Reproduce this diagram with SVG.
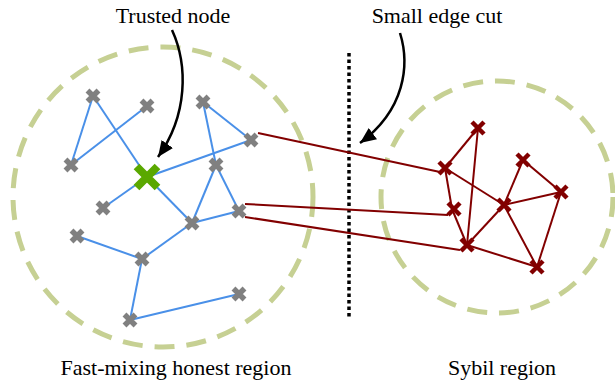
<svg xmlns="http://www.w3.org/2000/svg" xmlns:xlink="http://www.w3.org/1999/xlink" width="615" height="381" viewBox="0 0 615 381">
<style>
.region{fill:none;stroke:#c6d093;stroke-width:5;stroke-dasharray:20 12}
.cut{fill:none;stroke:#000;stroke-width:3.5;stroke-dasharray:3.5 3}
.blue{stroke:#4a90e8;stroke-width:2;fill:none}
.red{stroke:#820000;stroke-width:2;fill:none}
.arrow{fill:none;stroke:#000;stroke-width:2.5}
.xg{stroke:#808080;stroke-width:5.5;stroke-linecap:butt}
.xr{stroke:#820000;stroke-width:4.5;stroke-linecap:butt}
.xt{stroke:#5aa800;stroke-width:8;stroke-linecap:butt}
</style>
<defs>
<marker id="ah" markerUnits="userSpaceOnUse" markerWidth="20" markerHeight="20" refX="16" refY="7" orient="auto">
<path d="M0,0 L16,7 L0,14 Z" fill="#000"/>
</marker>
<g id="xgray" class="xg"><path d="M-5.5,-5.5 L5.5,5.5 M-5.5,5.5 L5.5,-5.5"/></g>
<g id="xred" class="xr"><path d="M-6,-6 L6,6 M-6,6 L6,-6"/></g>
<g id="xtrust" class="xt"><path d="M-10.5,-10.5 L10.5,10.5 M-10.5,10.5 L10.5,-10.5"/></g>
</defs>
<g id="regions">
<circle class="region" cx="163" cy="197" r="150"/>
<circle class="region" cx="497" cy="197" r="116"/>
<line class="cut" x1="349" y1="53" x2="349" y2="318"/>
</g>
<g id="connectors">
<g id="honest-edges" class="blue">
<line x1="93" y1="96" x2="71" y2="165"/>
<line x1="71" y1="165" x2="147" y2="106"/>
<line x1="93" y1="96" x2="147" y2="177"/>
<line x1="147" y1="177" x2="251" y2="140"/>
<line x1="203" y1="102" x2="251" y2="140"/>
<line x1="203" y1="102" x2="216" y2="165"/>
<line x1="216" y1="165" x2="192" y2="223"/>
<line x1="216" y1="165" x2="239" y2="211"/>
<line x1="147" y1="177" x2="103" y2="208"/>
<line x1="147" y1="177" x2="192" y2="223"/>
<line x1="192" y1="223" x2="239" y2="211"/>
<line x1="192" y1="223" x2="142" y2="259"/>
<line x1="77" y1="236" x2="142" y2="259"/>
<line x1="142" y1="259" x2="130" y2="320"/>
<line x1="130" y1="320" x2="239" y2="294"/>
</g>
<g id="attack-edges" class="red">
<line x1="258" y1="133" x2="440" y2="172"/>
<line x1="245" y1="204" x2="448" y2="215"/>
<line x1="245" y1="217" x2="460" y2="250"/>
</g>
<g id="sybil-edges" class="red">
<line x1="445" y1="168" x2="478" y2="128"/>
<line x1="478" y1="128" x2="467" y2="245"/>
<line x1="445" y1="168" x2="504" y2="205"/>
<line x1="445" y1="168" x2="452" y2="209"/>
<line x1="452" y1="209" x2="467" y2="245"/>
<line x1="467" y1="245" x2="504" y2="205"/>
<line x1="504" y1="205" x2="523" y2="160"/>
<line x1="523" y1="160" x2="561" y2="192"/>
<line x1="504" y1="205" x2="561" y2="192"/>
<line x1="504" y1="205" x2="537" y2="267"/>
<line x1="561" y1="192" x2="537" y2="267"/>
<line x1="467" y1="245" x2="537" y2="267"/>
</g>
<path id="arrow-trusted" class="arrow" d="M172,30 C188,65 188,115 158,157" marker-end="url(#ah)"/>
<path id="arrow-cut" class="arrow" d="M400,33 C410,65 405,110 360,143" marker-end="url(#ah)"/>
</g>
<g id="honest-nodes">
<g id="n-a"><use xlink:href="#xgray" x="93" y="96"/></g>
<g id="n-b"><use xlink:href="#xgray" x="147" y="106"/></g>
<g id="n-c"><use xlink:href="#xgray" x="71" y="165"/></g>
<g id="n-d"><use xlink:href="#xgray" x="203" y="102"/></g>
<g id="n-e"><use xlink:href="#xgray" x="251" y="140"/></g>
<g id="n-f"><use xlink:href="#xgray" x="216" y="165"/></g>
<g id="n-g"><use xlink:href="#xgray" x="103" y="208"/></g>
<g id="n-h"><use xlink:href="#xgray" x="239" y="211"/></g>
<g id="n-i"><use xlink:href="#xgray" x="192" y="223"/></g>
<g id="n-j"><use xlink:href="#xgray" x="77" y="236"/></g>
<g id="n-k"><use xlink:href="#xgray" x="142" y="259"/></g>
<g id="n-l"><use xlink:href="#xgray" x="239" y="294"/></g>
<g id="n-m"><use xlink:href="#xgray" x="130" y="320"/></g>
<g id="n-trusted"><use xlink:href="#xtrust" x="147" y="177"/></g>
</g>
<g id="sybil-nodes">
<g id="s-1"><use xlink:href="#xred" x="478" y="128"/></g>
<g id="s-2"><use xlink:href="#xred" x="445" y="168"/></g>
<g id="s-3"><use xlink:href="#xred" x="523" y="160"/></g>
<g id="s-4"><use xlink:href="#xred" x="561" y="192"/></g>
<g id="s-5"><use xlink:href="#xred" x="454" y="209"/></g>
<g id="s-6"><use xlink:href="#xred" x="504" y="205"/></g>
<g id="s-7"><use xlink:href="#xred" x="467" y="245"/></g>
<g id="s-8"><use xlink:href="#xred" x="537" y="267"/></g>
</g>
<g id="labels" font-family="'Liberation Serif', 'Times New Roman', 'DejaVu Serif', serif" font-size="22" fill="#000" text-anchor="middle">
<text x="173" y="23">Trusted node</text>
<text x="437" y="23">Small edge cut</text>
<text x="176" y="375">Fast-mixing honest region</text>
<text x="502" y="375">Sybil region</text>
</g>
</svg>
